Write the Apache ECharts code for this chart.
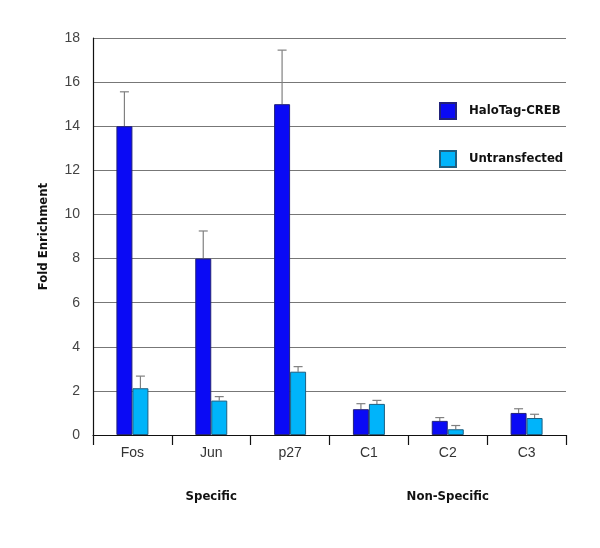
<!DOCTYPE html>
<html><head><meta charset="utf-8">
<script src="https://cdn.jsdelivr.net/npm/echarts@6/dist/echarts.min.js"></script>
<style>html,body{margin:0;padding:0;background:#fff}#c{width:600px;height:548px}</style>
</head><body><div id="c"></div>
<script>
const categories = ['Fos','Jun','p27','C1','C2','C3'];
const groups = ['Specific','Non-Specific'];
const haloValues = [14.0, 8.0, 15.0, 1.17, 0.64, 1.0];
const haloErrors = [1.56, 1.25, 2.45, 0.25, 0.15, 0.19];
const untransValues = [2.12, 1.56, 2.87, 1.41, 0.26, 0.77];
const untransErrors = [0.55, 0.18, 0.23, 0.16, 0.17, 0.17];
const yTicks = {min: 0, max: 18, interval: 2};

const BAR_W = 16;
const CONDENSED = '"Liberation Sans Narrow", "DejaVu Sans Condensed", sans-serif';
function errSeries(values, errors, side) {
  return {
    type: 'custom',
    xAxisIndex: 0, yAxisIndex: 0,
    silent: true, z: 1,
    data: values.map((v, i) => [i, v, v + errors[i]]),
    renderItem: function (params, api) {
      const base = api.coord([api.value(0), api.value(1)]);
      const top = api.coord([api.value(0), api.value(2)]);
      const x = base[0] + side * BAR_W / 2;
      const style = {stroke: '#808080', lineWidth: 1.2};
      return {type: 'group', children: [
        {type: 'line', shape: {x1: x, y1: base[1], x2: x, y2: top[1]}, style: style},
        {type: 'line', shape: {x1: x - 4.5, y1: top[1], x2: x + 4.5, y2: top[1]}, style: style}
      ]};
    }
  };
}

const chart = echarts.init(document.getElementById('c'), null, {renderer: 'canvas'});
chart.setOption({
  animation: false,
  backgroundColor: '#fff',
  grid: {left: 93, right: 34, top: 38, bottom: 113},
  legend: {
    orient: 'vertical', left: 434, top: 97, itemWidth: 16, itemHeight: 16, itemGap: 30,
    icon: 'rect',
    textStyle: {fontFamily: CONDENSED, fontWeight: 'bold', fontSize: 13, color: '#111', padding: [0,0,0,8]},
    data: ['HaloTag-CREB', 'Untransfected']
  },
  xAxis: [{
    type: 'category', data: categories, boundaryGap: true,
    axisLine: {lineStyle: {color: '#111', width: 1.2}},
    axisTick: {show: true, alignWithLabel: false, length: 10, lineStyle: {color: '#111', width: 1.2}},
    axisLabel: {fontFamily: 'Liberation Sans', fontSize: 14, color: '#333', margin: 11}
  }, {
    type: 'category', data: groups, position: 'bottom', offset: 47,
    axisLine: {show: false}, axisTick: {show: false},
    axisLabel: {fontFamily: CONDENSED, fontWeight: 'bold', fontSize: 13, color: '#111'}
  }],
  yAxis: {
    type: 'value', min: yTicks.min, max: yTicks.max, interval: yTicks.interval,
    name: 'Fold Enrichment', nameLocation: 'middle', nameGap: 43,
    nameTextStyle: {fontFamily: CONDENSED, fontWeight: 'bold', fontSize: 13, color: '#111'},
    axisLine: {show: true, lineStyle: {color: '#111', width: 1.2}},
    axisTick: {show: false},
    axisLabel: {fontFamily: 'Liberation Sans', fontSize: 14, color: '#444', margin: 13},
    splitLine: {lineStyle: {color: '#777', width: 1}}
  },
  series: [{
    name: 'HaloTag-CREB', type: 'bar', data: haloValues, barWidth: BAR_W, barGap: '0%', z: 2,
    itemStyle: {color: '#0a0af5', borderColor: '#22227a', borderWidth: 1}
  }, {
    name: 'Untransfected', type: 'bar', data: untransValues, barWidth: BAR_W, barGap: '0%', z: 2,
    itemStyle: {color: '#00b4fa', borderColor: '#1f5f80', borderWidth: 1}
  },
  errSeries(haloValues, haloErrors, -1),
  errSeries(untransValues, untransErrors, 1)]
});
</script></body></html>
